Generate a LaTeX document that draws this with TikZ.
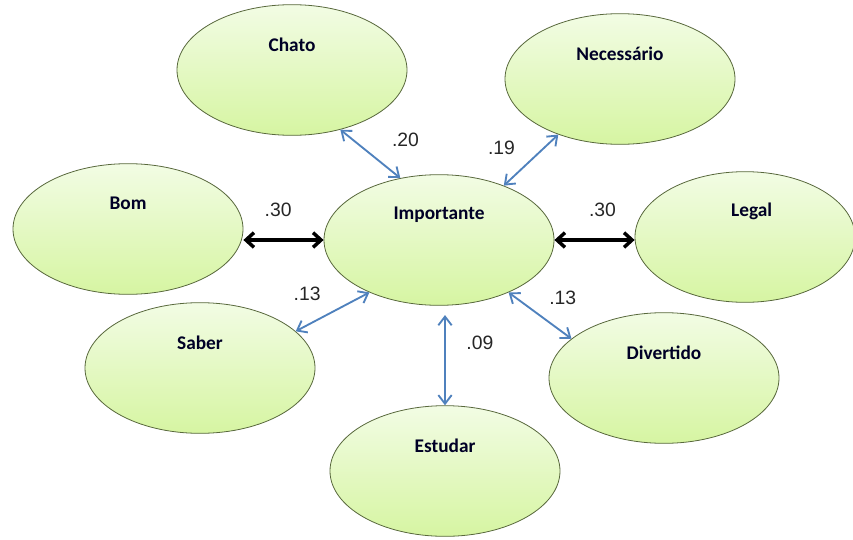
\documentclass[tikz,border=0pt]{standalone}
\usepackage{fontspec}
\setmainfont{Carlito}
\newfontfamily\numfont{Liberation Sans}
\usetikzlibrary{positioning, shapes.geometric, arrows.meta}

\definecolor{ovaltop}{RGB}{242,252,228}
\definecolor{ovalbottom}{RGB}{214,245,162}
\definecolor{ovalline}{RGB}{88,104,60}
\definecolor{linkblue}{RGB}{79,129,189}

\begin{document}
\begin{tikzpicture}[
    x=0.75pt, y=-0.75pt,
    oval/.style={ellipse, draw=ovalline, line width=0.6pt, top color=ovaltop, bottom color=ovalbottom, minimum width=172.5pt, minimum height=98pt, inner sep=0pt},
    word/.style={font=\bfseries\fontsize{14.5}{16}\selectfont, text=black!85!blue, yshift=19pt},
    weight/.style={font=\numfont\fontsize{14.5}{16}\selectfont, text=black!85},
    link/.style={{Straight Barb[length=6.5pt, width=10pt]}-{Straight Barb[length=6.5pt, width=10pt]}, draw=linkblue, line width=1.4pt},
    strong/.style={{Straight Barb[length=6pt, width=11pt]}-{Straight Barb[length=6pt, width=11pt]}, draw=black, line width=2.6pt}
]
\clip (0,0) rectangle (853,539);

% Center
\node[oval, label={[word]center:Importante}] (imp) at (439,240) {};

% Outer ovals
\node[oval, label={[word]center:Chato}] (chato) at (292,70) {};
\node[oval, label={[word]center:Necessário}] (nec) at (620,79) {};
\node[oval, label={[word]center:Bom}] (bom) at (128,229) {};
\node[oval, minimum width=165pt, label={[word, xshift=5pt]center:Legal}] (legal) at (745,237) {};
\node[oval, label={[word]center:Saber}] (saber) at (200,368) {};
\node[oval, label={[word]center:Divertido}] (div) at (664,378) {};
\node[oval, label={[word]center:Estudar}] (est) at (445,471) {};

% Arrows
\draw[link] (chato.-51) -- (imp.122) node[weight, pos=0.55, above right=3pt and 10pt] {.20};
\draw[link] (nec.-138) -- (imp.40) node[weight, pos=0.55, above left=2pt and 6pt] {.19};
\draw[strong] (imp.west -| bom.east) -- (imp.west) node[weight, midway, above=13pt, xshift=-4pt] {.30};
\draw[strong] (imp.east) -- (imp.east -| legal.west) node[weight, midway, above=13pt, xshift=6pt] {.30};
\draw[link] (saber.21) -- (imp.217) node[weight, pos=0.5, above left=4pt and 5pt] {.13};
\draw[link] (div.157) -- (imp.-37) node[weight, pos=0.65, above right=-1pt and 10pt] {.13};
\draw[link, shorten <=7pt] (imp.south -| est.north) -- (est.north) node[weight, midway, above right=0pt and 12pt] {.09};

\end{tikzpicture}
\end{document}
